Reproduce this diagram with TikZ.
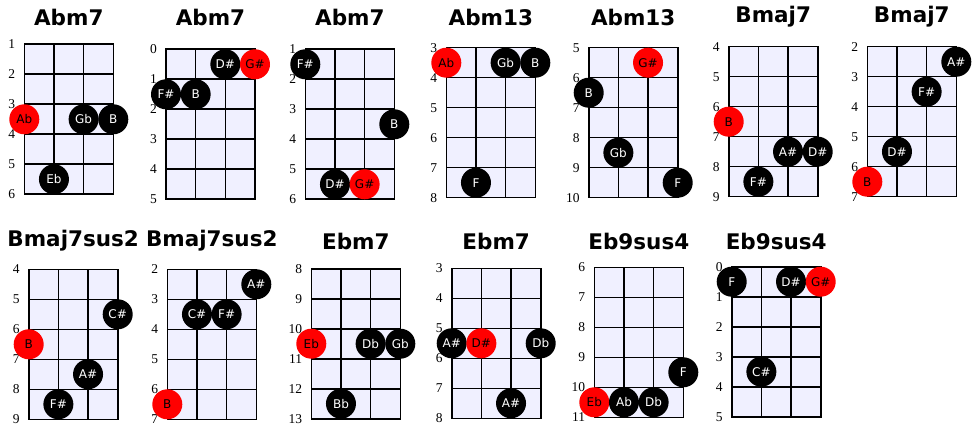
\documentclass[tikz,border=0pt]{standalone}
\usepackage{fontspec}
\setmainfont{Liberation Serif}
\setsansfont{DejaVu Sans}
\definecolor{chcell}{RGB}{240,240,255}
\tikzset{
    ch title/.style={font=\sffamily\bfseries\fontsize{21.5}{24}\selectfont,
                     inner sep=0pt},
    ch fret/.style={font=\fontsize{13.5}{15}\selectfont, anchor=east,
                    inner sep=0pt},
    ch cell/.style={fill=chcell},
    ch line/.style={line width=1.6pt, black},
    ch dot/.style={circle, fill=black, text=white, minimum size=30pt,
                   inner sep=0pt, font=\sffamily\fontsize{12}{14}\selectfont},
    ch root/.style={ch dot, fill=red, text=black},
}
% #1 name, #2 grid left, #3 grid top, #4 title y, #5 title,
% #6 first fret, #7 dots as string/row/label/style
\newcommand{\chord}[7]{%
  \begin{scope}[shift={(#2,#3)}, name prefix=#1-]
    \def\w{89}\def\h{150}%
    \node[ch title] (t) at (\w/2, #4-#3) {#5};
    \fill[ch cell] (0,0) rectangle (\w,\h);
    \foreach \i in {1,2}
      \draw[ch line] (\i*\w/3,0) -- (\i*\w/3,\h);
    \foreach \j in {1,...,4}
      \draw[ch line] (0,\j*30) -- (\w,\j*30);
    \draw[ch line] (0,0) rectangle (\w,\h);
    \foreach \i [evaluate=\i as \n using int(#6+\i)] in {0,...,5}
      \node[ch fret] (f\i) at (-9,\i*30) {\n};
    \foreach \s/\r/\l/\st [count=\k] in {#7}
      \node[\st] (d\k) at (\s*\w/3, \r*30+15) {\l};
  \end{scope}}

\begin{document}
\begin{tikzpicture}[x=1pt, y=-1pt]
    \useasboundingbox (0,0) rectangle (979,430);
    % Top row
    \chord{c1}{24.3}{44.3}{17}{Abm7}{1}
      {0/2/Ab/ch root, 2/2/Gb/ch dot, 3/2/B/ch dot, 1/4/Eb/ch dot}
    \chord{c2}{166}{49.3}{17}{Abm7}{0}
      {2/0/D\#/ch dot, 3/0/G\#/ch root, 0/1/F\#/ch dot, 1/1/B/ch dot}
    \chord{c3}{305.3}{49.3}{17}{Abm7}{1}
      {0/0/F\#/ch dot, 3/2/B/ch dot, 1/4/D\#/ch dot, 2/4/G\#/ch root}
    \chord{c4}{446.3}{47.7}{17}{Abm13}{3}
      {0/0/Ab/ch root, 2/0/Gb/ch dot, 3/0/B/ch dot, 1/4/F/ch dot}
    \chord{c5}{588.7}{47.7}{17}{Abm13}{5}
      {2/0/G\#/ch root, 0/1/B/ch dot, 1/3/Gb/ch dot, 3/4/F/ch dot}
    \chord{c6}{728.7}{46.7}{17}{Bmaj7}{4}
      {0/2/B/ch root, 2/3/A\#/ch dot, 3/3/D\#/ch dot, 1/4/F\#/ch dot}
    \chord{c7}{867.3}{46.7}{17}{Bmaj7}{2}
      {3/0/A\#/ch dot, 2/1/F\#/ch dot, 1/3/D\#/ch dot, 0/4/B/ch root}
    % Bottom row
    \chord{c8}{28.7}{269.3}{241}{Bmaj7sus2}{4}
      {3/1/C\#/ch dot, 0/2/B/ch root, 2/3/A\#/ch dot, 1/4/F\#/ch dot}
    \chord{c9}{167.3}{269.3}{241}{Bmaj7sus2}{2}
      {3/0/A\#/ch dot, 1/1/C\#/ch dot, 2/1/F\#/ch dot, 0/4/B/ch root}
    \chord{c10}{311.3}{268.7}{241}{Ebm7}{8}
      {0/2/Eb/ch root, 2/2/Db/ch dot, 3/2/Gb/ch dot, 1/4/Bb/ch dot}
    \chord{c11}{451.7}{268.3}{241}{Ebm7}{3}
      {0/2/A\#/ch dot, 1/2/D\#/ch root, 3/2/Db/ch dot, 2/4/A\#/ch dot}
    \chord{c12}{594.3}{267.3}{241}{Eb9sus4}{6}
      {3/3/F/ch dot, 0/4/Eb/ch root, 1/4/Ab/ch dot, 2/4/Db/ch dot}
    \chord{c13}{731.7}{266.7}{241}{Eb9sus4}{0}
      {0/0/F/ch dot, 2/0/D\#/ch dot, 3/0/G\#/ch root, 1/3/C\#/ch dot}
\end{tikzpicture}
\end{document}
